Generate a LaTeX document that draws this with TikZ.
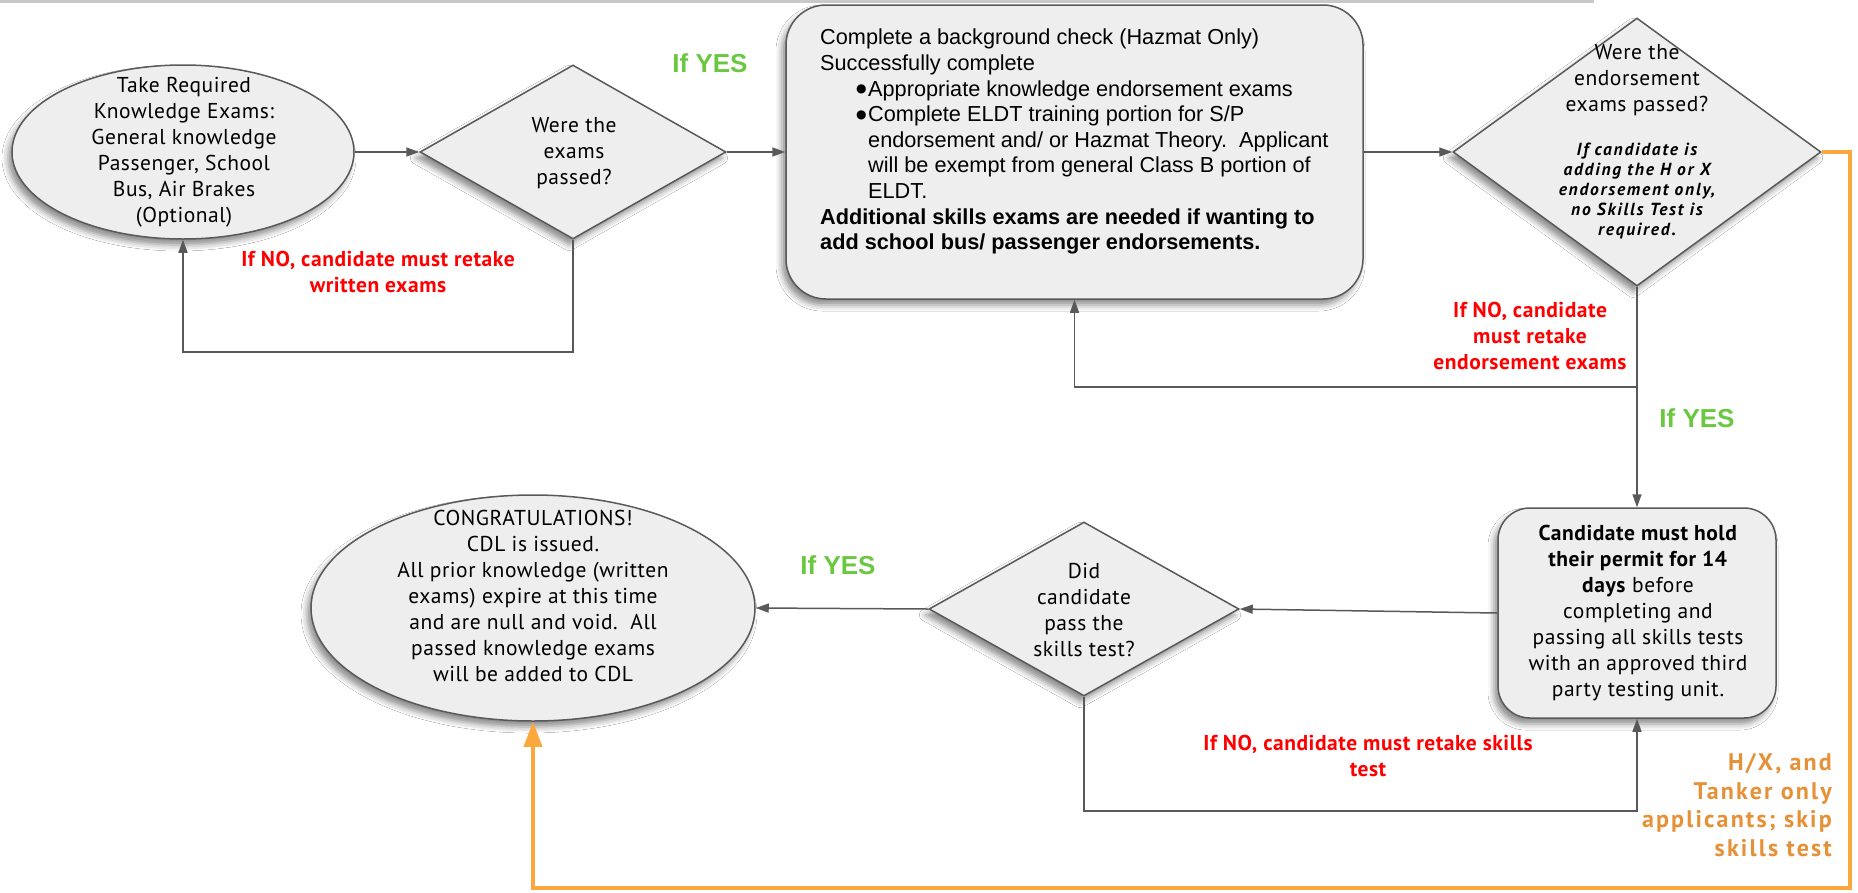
\documentclass[tikz,border=0pt]{standalone}
\usepackage{fontspec}
\setmainfont[LetterSpace=2.5]{PT Sans}
\newfontfamily\arialf{Liberation Sans}
\newfontfamily\dejavu{DejaVu Sans}
\usetikzlibrary{shapes.geometric,arrows.meta,shadows.blur}
\definecolor{boxfill}{RGB}{238,238,238}
\definecolor{boxline}{RGB}{89,89,89}
\definecolor{yesgreen}{RGB}{106,200,64}
\definecolor{nored}{RGB}{255,0,0}
\definecolor{orline}{RGB}{250,168,62}
\definecolor{ortext}{RGB}{230,145,56}
\newcommand{\bigdot}{\makebox[12pt][l]{\raisebox{3.5pt}{\dejavu\fontsize{12}{12}\selectfont ●}}}
\begin{document}
\begin{tikzpicture}[x=1pt,y=-1pt,
  flowshape/.style={draw=boxline, fill=boxfill, line width=1.5pt,
    blur shadow={shadow xshift=-4pt, shadow yshift=-6pt, shadow blur radius=6pt, shadow opacity=45}},
  ell/.style={flowshape, ellipse, inner sep=0pt},
  dia/.style={flowshape, diamond, inner sep=0pt},
  rbox/.style={flowshape, rectangle, inner sep=0pt},
  conn/.style={draw=boxline, line width=1.5pt, -{Triangle[length=13pt,width=9pt]}},
  orconn/.style={draw=orline, line width=3.5pt, -{Triangle[length=25pt,width=18pt]}},
  txt/.style={font=\fontsize{21.5}{26}\selectfont, align=center, inner sep=0pt},
  smalltxt/.style={font=\fontsize{17.5}{20.2}\selectfont\bfseries\itshape\addfontfeature{LetterSpace=10}, align=center, inner sep=0pt},
  yeslbl/.style={font=\arialf\bfseries\fontsize{26}{30}\selectfont, text=yesgreen, inner sep=0pt},
  nolbl/.style={font=\bfseries\fontsize{21.5}{26}\selectfont, text=nored, align=center, inner sep=0pt},
  orlbl/.style={font=\bfseries\fontsize{24}{28.5}\selectfont\addfontfeature{LetterSpace=9}, text=ortext, align=right, inner sep=0pt},
  boxtxt/.style={font=\arialf\fontsize{21.7}{25.6}\selectfont, align=left, inner sep=0pt}
]
\useasboundingbox (0,0) rectangle (1858,892);
\fill[white] (0,0) rectangle (1858,892);
% top page edge
\draw[draw={rgb,255:red,200;green,200;blue,200}, line width=3pt] (0,1.5) -- (1594,1.5);

% shapes
\node[ell, minimum width=342pt, minimum height=174pt] (e1) at (183,152) {};
\node[dia, minimum width=306pt, minimum height=174pt] (d1) at (573,152) {};
\node[rbox, rounded corners=40pt, minimum width=577pt, minimum height=294pt] (b1) at (1074.5,152) {};
\node[dia, minimum width=368pt, minimum height=268pt] (d2) at (1637,152) {};
\node[rbox, rounded corners=32pt, minimum width=278pt, minimum height=210pt] (b2) at (1637,613) {};
\node[dia, minimum width=310pt, minimum height=174pt] (d3) at (1084,609) {};
\node[ell, minimum width=444pt, minimum height=226pt] (e2) at (533,608) {};

% texts in shapes
\node[txt] (e1t) at (184,152) {Take Required\\Knowledge Exams:\\General knowledge\\Passenger, School\\Bus, Air Brakes\\(Optional)};
\node[txt] (d1t) at (574,153) {Were the\\exams\\passed?};
\node[boxtxt, anchor=north west] (b1t) at (820,29) {Complete a background check (Hazmat Only)\\
Successfully complete\\
\hspace*{36pt}\bigdot Appropriate knowledge endorsement exams\\
\hspace*{36pt}\bigdot Complete ELDT training portion for S/P\\
\hspace*{48pt}endorsement and/ or Hazmat Theory.\ \ Applicant\\
\hspace*{48pt}will be exempt from general Class B portion of\\
\hspace*{48pt}ELDT.\\
\textbf{Additional skills exams are needed if wanting to}\\
\textbf{add school bus/ passenger endorsements.}};
\node[txt] (d2t) at (1637,80) {Were the\\endorsement\\exams passed?};
\node[smalltxt] (d2s) at (1637,191) {If candidate is\\adding the H or X\\endorsement only,\\no Skills Test is\\required.};
\node[txt] (b2t) at (1638,613) {\textbf{Candidate must hold}\\\textbf{their permit for 14}\\\textbf{days} before\\completing and\\passing all skills tests\\with an approved third\\party testing unit.};
\node[txt] (d3t) at (1084,610) {Did\\candidate\\pass the\\skills test?};
\node[txt] (e2t) at (533,596) {CONGRATULATIONS!\\CDL is issued.\\All prior knowledge (written\\exams) expire at this time\\and are null and void.\ \ All\\passed knowledge exams\\will be added to CDL};

% labels
\node[yeslbl] (y1) at (710,63) {If YES};
\node[yeslbl] (y2) at (1697,418) {If YES};
\node[yeslbl] (y3) at (838,565) {If YES};
\node[nolbl] (n1) at (378,272) {If NO, candidate must retake\\written exams};
\node[nolbl] (n2) at (1530,336) {If NO, candidate\\must retake\\endorsement exams};
\node[nolbl] (n3) at (1368,756) {If NO, candidate must retake skills\\test};
\node[orlbl, anchor=east] (hx) at (1832,805) {H/X, and\\Tanker only\\applicants; skip\\skills test};

% connector corner points
\coordinate (c1) at (573,352);
\coordinate (c2) at (1637,387);
\coordinate (c3) at (1084,811);
\coordinate (o1) at (1850,152);
\coordinate (o2) at (1850,888);
\coordinate (o3) at (533,888);

% connectors
\draw[conn] (e1.east) -- (d1.west);
\draw[conn] (d1.east) -- (b1.west);
\draw[conn] (d1.south) -- (c1) -| (e1.south);
\draw[conn] (b1.east) -- (d2.west);
\draw[conn] (d2.south) -- (b2.north);
\draw[conn] (c2) -| (b1.south);
\draw[conn] (b2.west) -- (d3.east);
\draw[conn] (d3.south) -- (c3) -| (b2.south);
\draw[conn] (d3.west) -- (e2.east);
\draw[orconn] (d2.east) -- (o1) -- (o2) -- (o3) -- (e2.south);
\end{tikzpicture}
\end{document}
